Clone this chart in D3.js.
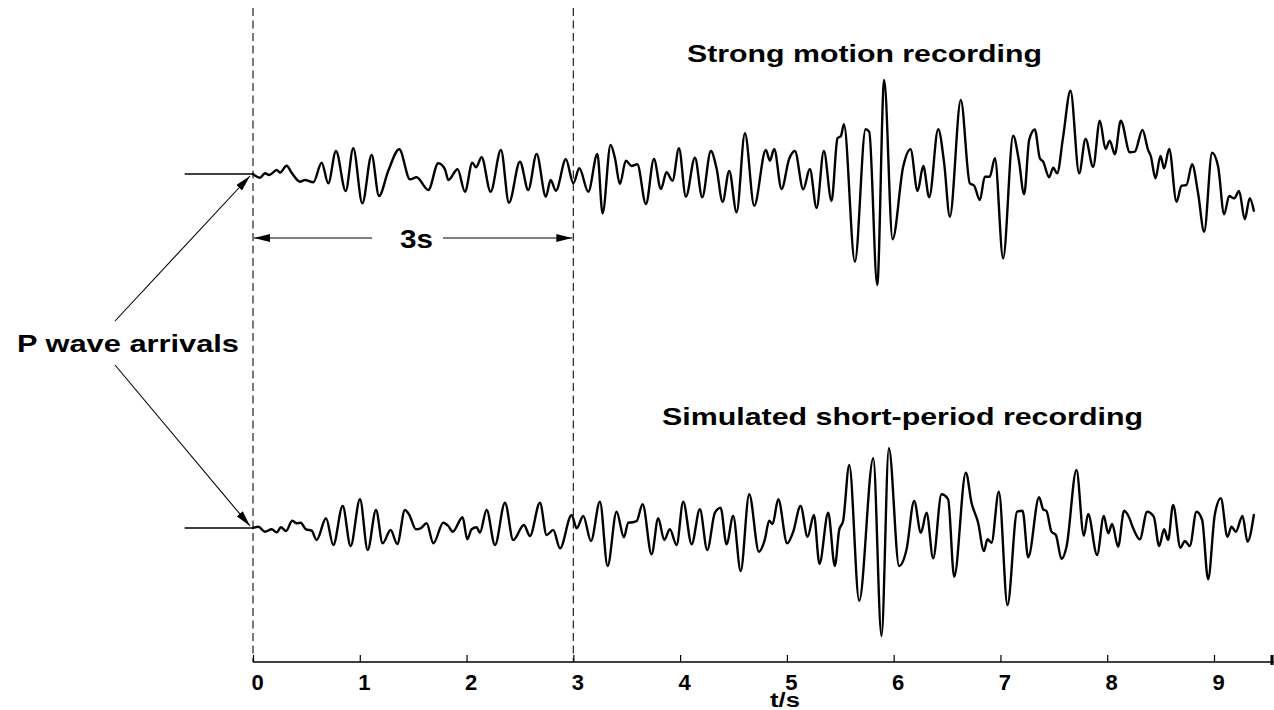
<!DOCTYPE html>
<html>
<head>
<meta charset="utf-8">
<script src="https://cdn.jsdelivr.net/npm/d3@7"></script>
<style>
  html, body { margin: 0; padding: 0; background: #fff; }
  svg { display: block; }
  text { font-family: "Liberation Sans", Arial, Helvetica, sans-serif; font-weight: bold; fill: #000; }
</style>
</head>
<body>
<svg id="chart" width="1274" height="710"></svg>
<script>
// ---- data (time in s, amplitude in relative units) ----
const strongTimes = [
  -0.64, 0, 0.066, 0.112, 0.153, 0.222, 0.253, 0.315, 0.362, 0.44,
  0.487, 0.565, 0.643, 0.705, 0.777, 0.868, 0.939, 1.024, 1.111, 1.18,
  1.267, 1.37, 1.47, 1.532, 1.642, 1.735, 1.798, 1.829, 1.916, 1.985,
  2.054, 2.088, 2.141, 2.225, 2.322, 2.397, 2.5, 2.578, 2.656, 2.743,
  2.787, 2.837, 2.93, 3.0, 3.056, 3.14, 3.225, 3.274, 3.349, 3.39,
  3.436, 3.492, 3.546, 3.599, 3.68, 3.755, 3.82, 3.873, 3.929, 3.989,
  4.054, 4.139, 4.207, 4.288, 4.341, 4.398, 4.46, 4.529, 4.607, 4.694,
  4.803, 4.841, 4.881, 4.95, 5.021, 5.075, 5.153, 5.215, 5.278, 5.346,
  5.418, 5.474, 5.506, 5.534, 5.637, 5.737, 5.771, 5.846, 5.911, 5.99,
  6.089, 6.158, 6.224, 6.277, 6.333, 6.417, 6.473, 6.526, 6.629, 6.713,
  6.754, 6.807, 6.854, 6.9, 6.948, 7.025, 7.119, 7.172, 7.222, 7.269,
  7.322, 7.369, 7.4, 7.456, 7.494, 7.531, 7.587, 7.656, 7.737, 7.797,
  7.868, 7.931, 7.984, 8.024, 8.071, 8.127, 8.212, 8.258, 8.33, 8.383,
  8.408, 8.452, 8.499, 8.533, 8.58, 8.649, 8.696, 8.742, 8.795, 8.851,
  8.908, 8.982, 9.039, 9.095, 9.142, 9.189, 9.235, 9.288, 9.335, 9.373
];
const strongAmps = [
  0, 0, -3.7, 0.7, -1, 4, 1.3, 8.3, 1.3, -7.7,
  -6, -8.3, 11.3, -9.3, 23, -17, 25.7, -29.3, 19, -22,
  3.3, 24.7, -5.3, -3.3, -16, 10.7, 4.7, -6, 4.7, -17.7,
  11.3, 6.7, 16.7, -17.7, 24, -28.7, 12.3, -16, 20, -22.7,
  -6, -16.7, 14.7, -9.3, 5.7, -17.7, 20, -39.3, 29, 15.7,
  -10, 13.3, 8, 9.7, -30, 15, -15, 1.7, -6.7, 25.7,
  -22.7, 16.3, -23.3, 23, 5.7, -27.7, 3, -38.3, 40.7, -31.7,
  24, 13.3, 25, -15, 15, 23, -15.3, 5, -34, 23,
  -27, 35.7, 38, 49.7, -87.7, 44.7, 42.3, -111, 94, -65.3,
  7.3, 24.7, -17, 8, -23.3, 44.7, 10.7, -42.7, 74, -9.3,
  -11.7, -26, -2.7, -2.7, 15.7, -84.3, 38.3, 14, -20.3, 34,
  44.5, 15.7, 12.3, -3.3, 6.3, 0.7, 37.3, 83.3, 0.7, 35,
  7.3, 53.3, 25, 33.3, 19.7, 53.3, 21.7, 22.3, 44, 24,
  18, -4.3, 18, 5.7, 25, -27.7, -11.7, -11, 9.7, -19.3,
  -57.7, 21.3, 7.3, -40.3, -22, -24.3, -17, -45.3, -24.3, -36.7
];
const shortTimes = [
  -0.64, 0, 0.05, 0.112, 0.175, 0.222, 0.262, 0.309, 0.368, 0.409,
  0.446, 0.496, 0.549, 0.596, 0.684, 0.752, 0.84, 0.914, 1.002, 1.074,
  1.152, 1.214, 1.289, 1.351, 1.423, 1.464, 1.526, 1.57, 1.626, 1.689,
  1.782, 1.829, 1.87, 1.963, 2.007, 2.047, 2.094, 2.125, 2.188, 2.266,
  2.36, 2.437, 2.537, 2.594, 2.687, 2.75, 2.812, 2.875, 2.984, 3.031,
  3.093, 3.165, 3.249, 3.321, 3.405, 3.474, 3.514, 3.555, 3.593, 3.649,
  3.733, 3.795, 3.851, 3.904, 3.967, 4.029, 4.108, 4.185, 4.254, 4.326,
  4.379, 4.435, 4.497, 4.567, 4.647, 4.738, 4.794, 4.834, 4.866, 4.919,
  5.003, 5.059, 5.128, 5.194, 5.253, 5.305, 5.387, 5.449, 5.49, 5.527,
  5.584, 5.677, 5.809, 5.886, 5.955, 6.051, 6.121, 6.192, 6.255, 6.308,
  6.37, 6.448, 6.51, 6.567, 6.676, 6.729, 6.791, 6.845, 6.879, 6.916,
  6.985, 7.066, 7.156, 7.207, 7.26, 7.362, 7.4, 7.431, 7.478, 7.519,
  7.572, 7.619, 7.712, 7.781, 7.821, 7.905, 7.968, 8.009, 8.046, 8.102,
  8.158, 8.202, 8.243, 8.305, 8.374, 8.436, 8.486, 8.533, 8.57, 8.617,
  8.686, 8.727, 8.773, 8.836, 8.889, 8.945, 9.007, 9.064, 9.126, 9.164,
  9.204, 9.267, 9.314, 9.373
];
const shortAmps = [
  0, 0, 1.3, -3.7, -1.3, -4.3, 0.7, -3, 7.3, 4.7,
  5.3, -1.3, -2.7, -12, 9.7, -17, 22, -18, 28.7, -22,
  18, -15.3, -2, -16, 18, 13, -1.3, -0.3, 4.7, -15.3,
  5.3, 2, -3.7, 10.7, -11.3, -1.3, 0.7, -4.7, 18, -17,
  25.3, -12, 3, -8, 25.3, -7, -2, -20.3, 13, -0.3,
  12, -13, 26.3, -38, 16.3, -9.3, 5.3, 5.7, 7, 23.7,
  -26.3, 9.7, -12, -1.3, -17, 26.3, -16.3, 18.7, -22, 15.3,
  20.3, -16.3, 12, -43, 33.7, -23.7, -11.3, 7.3, 4, 28.7,
  -15.3, -3.7, 22, -8.7, 13, -35.7, 15.3, -38, -2, 7.3,
  63, -72.7, 69.7, -108, 79.7, -38, -21.3, 27, -4.7, 15.3,
  -30.3, 33.7, 28.7, -48.7, 55.3, 25.3, 5.3, -23, -11.3, -14.7,
  36.3, -77, 16.3, 17.3, -29.3, 30.7, 18.7, 17, -3.7, -7,
  -31, -18.7, 58, -7.7, 14, -27, 12, -5.3, 4, -18.7,
  17.3, 11.3, -0.3, -11.3, 16.3, 11.3, -18, -1.3, -12, 23,
  -19.7, -13, -18, 16.3, 8, -51.3, 13, 29.7, -8.7, 1.3,
  -3.7, 12, -13.7, 13
];
const tickValues = [0, 1, 2, 3, 4, 5, 6, 7, 8, 9];
const markerTimes = [0, 3];          // dashed vertical lines
const spanLabel = "3s";
const titles = ["Strong motion recording", "Simulated short-period recording"];
const pLabel = "P wave arrivals";
const xLabel = "t/s";

// ---- layout ----
const svg = d3.select("#chart");
const W = 1274, H = 710;
svg.append("rect").attr("width", W).attr("height", H).attr("fill", "#fff");

const x = d3.scaleLinear().domain([0, 9]).range([253, 1214]);
const axisY = 662;
const yTop = d3.scaleLinear().domain([-100, 100]).range([274, 74]);
const yBot = d3.scaleLinear().domain([-100, 100]).range([628, 428]);

// arrow marker
const defs = svg.append("defs");
defs.append("marker")
  .attr("id", "ah").attr("viewBox", "0 0 16 8")
  .attr("refX", 16).attr("refY", 4)
  .attr("markerWidth", 16).attr("markerHeight", 8)
  .attr("markerUnits", "userSpaceOnUse")
  .attr("orient", "auto")
  .append("path").attr("d", "M0,0 L16,4 L0,8 Z").attr("fill", "#000");

// dashed lines
svg.selectAll("line.mark").data(markerTimes).join("line")
  .attr("class", "mark")
  .attr("x1", d => x(d)).attr("x2", d => x(d))
  .attr("y1", 8).attr("y2", axisY)
  .attr("stroke", "#222").attr("stroke-width", 1.2)
  .attr("stroke-dasharray", "8,4.5");

// traces: pre-event part (t <= 0) thinner, waveform thicker
function trace(times, amps, yScale) {
  const pts = times.map((t, i) => [t, amps[i]]);
  const line = d3.line()
    .x(d => x(d[0])).y(d => yScale(d[1]))
    .curve(d3.curveMonotoneX);
  svg.append("path").datum(pts.filter(d => d[0] <= 0))
    .attr("d", d3.line().x(d => x(d[0])).y(d => yScale(d[1])))
    .attr("fill", "none").attr("stroke", "#000").attr("stroke-width", 1.6);
  svg.append("path").datum(pts.filter(d => d[0] >= 0))
    .attr("d", line)
    .attr("fill", "none").attr("stroke", "#000")
    .attr("stroke-width", 2.4)
    .attr("stroke-linejoin", "round").attr("stroke-linecap", "round");
}
trace(strongTimes, strongAmps, yTop);
trace(shortTimes, shortAmps, yBot);

// x axis
const axis = d3.axisBottom(x)
  .tickValues(tickValues)
  .tickSizeInner(-7).tickSizeOuter(0)
  .tickFormat(d3.format("d"));
const gAxis = svg.append("g").attr("transform", `translate(0,${axisY})`).call(axis);
gAxis.attr("font-size", null).attr("font-family", null);
gAxis.select(".domain").remove();
gAxis.append("line").attr("x1", x(0)).attr("x2", W)
  .attr("stroke", "#000").attr("stroke-width", 1.3);
gAxis.append("line").attr("x1", W - 2).attr("x2", W - 2).attr("y1", -7).attr("y2", 3)
  .attr("stroke", "#000").attr("stroke-width", 3);
gAxis.selectAll(".tick line").attr("stroke", "#000").attr("stroke-width", 1.2);
gAxis.selectAll(".tick text")
  .attr("y", 0).attr("dy", 0)
  .attr("transform", "translate(4,28)")
  .attr("font-size", 22)
  .style("font-size", "22px").style("font-weight", "bold");

svg.append("text").attr("x", 785).attr("y", 707)
  .attr("text-anchor", "middle").style("font-size", "20px")
  .attr("textLength", 30).attr("lengthAdjust", "spacingAndGlyphs")
  .text(xLabel);

// titles
svg.append("text").attr("x", 687).attr("y", 62)
  .attr("textLength", 355).attr("lengthAdjust", "spacingAndGlyphs")
  .style("font-size", "24px").text(titles[0]);
svg.append("text").attr("x", 662).attr("y", 425)
  .attr("textLength", 481).attr("lengthAdjust", "spacingAndGlyphs")
  .style("font-size", "24px").text(titles[1]);

// 3s span arrows
const spanY = 238;
svg.append("line").attr("x1", 372).attr("x2", x(markerTimes[0]) + 1)
  .attr("y1", spanY).attr("y2", spanY)
  .attr("stroke", "#000").attr("stroke-width", 1.2).attr("marker-end", "url(#ah)");
svg.append("line").attr("x1", 443).attr("x2", x(markerTimes[1]) - 1)
  .attr("y1", spanY).attr("y2", spanY)
  .attr("stroke", "#000").attr("stroke-width", 1.2).attr("marker-end", "url(#ah)");
svg.append("text").attr("x", 400).attr("y", 248)
  .attr("textLength", 33).attr("lengthAdjust", "spacingAndGlyphs")
  .style("font-size", "25px").text(spanLabel);

// P wave label and arrows
svg.append("text").attr("x", 17).attr("y", 352)
  .attr("textLength", 222).attr("lengthAdjust", "spacingAndGlyphs")
  .style("font-size", "24px").text(pLabel);
svg.append("line").attr("x1", 115).attr("y1", 321)
  .attr("x2", x(0) - 3).attr("y2", yTop(0) + 2)
  .attr("stroke", "#000").attr("stroke-width", 1.1).attr("marker-end", "url(#ah)");
svg.append("line").attr("x1", 115).attr("y1", 365)
  .attr("x2", x(0) - 3).attr("y2", yBot(0) - 2)
  .attr("stroke", "#000").attr("stroke-width", 1.1).attr("marker-end", "url(#ah)");
</script>
</body>
</html>
